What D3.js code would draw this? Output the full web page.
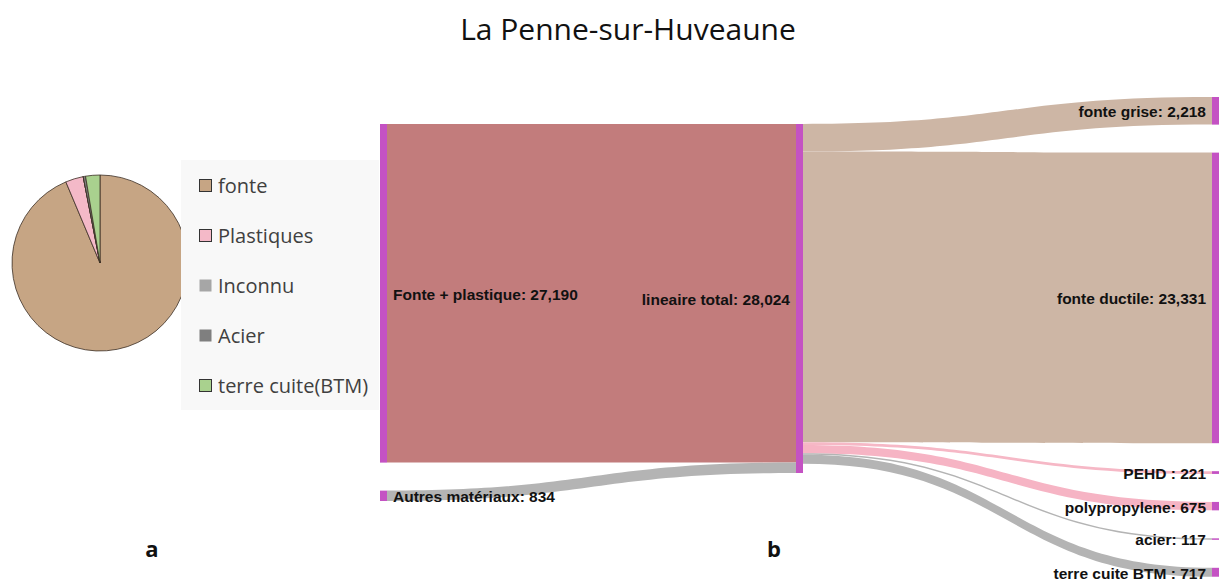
<!DOCTYPE html>
<html><head><meta charset="utf-8">
<script src="https://cdn.jsdelivr.net/npm/d3@7"></script>
<style>body{margin:0;background:#fff;}svg{display:block;}</style>
</head><body>
<svg id="chart" width="1224" height="582"></svg>
<script>
// ---- data ----
const title = "La Penne-sur-Huveaune";
const pieCategories = ["fonte", "Plastiques", "Inconnu", "Acier", "terre cuite(BTM)"];
const pieValues = [25549, 896, 0, 117, 717];
const pieColors = ["#c6a584", "#f4b9c8", "#a6a6a6", "#7f7f7f", "#a9d18e"];
const pieOutlined = [true, true, false, false, true];

const sourceNames = ["Fonte + plastique", "Autres matériaux"];
const sourceValues = [27190, 834];
const sourceLinkColors = ["#c27c7c", "#b4b4b4"];
const middleName = "lineaire total";
const middleValue = 28024;
const targetNames = ["fonte grise", "fonte ductile", "PEHD ", "polypropylene", "acier", "terre cuite BTM "];
const targetValues = [2218, 23331, 221, 675, 117, 717];
const targetLinkColors = ["#cdb6a5", "#cdb6a5", "#f6b8c6", "#f6b4c4", "#b4b4b4", "#b4b4b4"];
const panelLabels = ["a", "b"];

// ---- drawing ----
const svg = d3.select("#chart");
const fmt = d3.format(",");

svg.append("text").attr("x", 628).attr("y", 40).attr("text-anchor", "middle")
  .attr("font-family", "Open Sans, sans-serif").attr("font-size", 30).attr("fill", "#111")
  .text(title);

// Pie
const pie = d3.pie().sort(null).value(d => d)(pieValues);
const arc = d3.arc().innerRadius(0).outerRadius(88);
const pg = svg.append("g").attr("transform", "translate(100,263)");
pg.selectAll("path").data(pie).join("path")
  .attr("d", arc).attr("fill", (d, i) => pieColors[i])
  .attr("stroke", "#3b2e25").attr("stroke-width", 0.8);

// Legend
const lg = svg.append("g");
lg.append("rect").attr("x", 181).attr("y", 160).attr("width", 198).attr("height", 250).attr("fill", "#f8f8f8");
const ly = d3.scalePoint().domain(pieCategories).range([186, 386]);
pieCategories.forEach((c, i) => {
  lg.append("rect").attr("x", 199.5).attr("y", ly(c) - 6.5).attr("width", 12).attr("height", 12)
    .attr("fill", pieColors[i]).attr("stroke", pieOutlined[i] ? "#333" : "none").attr("stroke-width", 1);
  lg.append("text").attr("x", 218).attr("y", ly(c)).attr("dy", "0.35em")
    .attr("font-family", "Open Sans, sans-serif").attr("font-size", 20).attr("fill", "#404040").text(c);
});

// Sankey (manual layout)
const k = d3.scaleLinear().domain([0, middleValue]).range([0, 349]);
const colX = d3.scalePoint().domain([0, 1, 2]).range([380, 1212]);
const nodeW = 7, pad = 28;
const colTop = [124, 124, 97];
const nodeColor = "#c452c3";

function stack(values, top) {
  let y = top;
  return values.map(v => { const n = {y0: y, y1: y + k(v)}; y = n.y1 + pad; return n; });
}
const srcNodes = stack(sourceValues, colTop[0]).map((n, i) => ({...n, name: sourceNames[i], value: sourceValues[i], x0: colX(0)}));
const midNode = {...stack([middleValue], colTop[1])[0], name: middleName, value: middleValue, x0: colX(1)};
const tgtNodes = stack(targetValues, colTop[2]).map((n, i) => ({...n, name: targetNames[i], value: targetValues[i], x0: colX(2)}));

function band(xa, ya0, ya1, xb, yb0, yb1) {
  const xm = (xa + xb) / 2;
  return `M${xa},${ya0}C${xm},${ya0} ${xm},${yb0} ${xb},${yb0}L${xb},${yb1}C${xm},${yb1} ${xm},${ya1} ${xa},${ya1}Z`;
}
const links = [];
let mIn = midNode.y0;
srcNodes.forEach((n, i) => {
  const h = k(sourceValues[i]);
  links.push({d: band(n.x0 + nodeW, n.y0, n.y0 + h, midNode.x0, mIn, mIn + h), c: sourceLinkColors[i]});
  mIn += h;
});
let mOut = midNode.y0;
tgtNodes.forEach((n, i) => {
  const h = k(targetValues[i]);
  links.push({d: band(midNode.x0 + nodeW, mOut, mOut + h, n.x0, n.y0, n.y0 + h), c: targetLinkColors[i]});
  mOut += h;
});
const sg = svg.append("g");
sg.selectAll("path.link").data(links).join("path").attr("class", "link")
  .attr("d", d => d.d).attr("fill", d => d.c);

const allNodes = [...srcNodes, midNode, ...tgtNodes];
sg.selectAll("rect.node").data(allNodes).join("rect").attr("class", "node")
  .attr("x", d => d.x0).attr("y", d => d.y0).attr("width", nodeW)
  .attr("height", d => Math.max(1.5, d.y1 - d.y0)).attr("fill", nodeColor);

sg.selectAll("text.lab").data(allNodes).join("text").attr("class", "lab")
  .attr("x", d => d.x0 === colX(0) ? d.x0 + nodeW + 6 : d.x0 - 6)
  .attr("y", d => (d.y0 + d.y1) / 2 + 1).attr("dy", "0.35em")
  .attr("text-anchor", d => d.x0 === colX(0) ? "start" : "end")
  .attr("font-family", "Liberation Sans, Arial, sans-serif").attr("font-weight", "bold")
  .attr("font-size", 15.5).attr("fill", "#111")
  .text(d => d.name + ": " + fmt(d.value));

// panel labels
[[152, panelLabels[0]], [774, panelLabels[1]]].forEach(([x, t]) => {
  svg.append("text").attr("x", x).attr("y", 557).attr("text-anchor", "middle")
    .attr("font-family", "Open Sans, sans-serif").attr("font-weight", "bold").attr("font-size", 22)
    .attr("fill", "#111").text(t);
});
</script>
</body></html>
